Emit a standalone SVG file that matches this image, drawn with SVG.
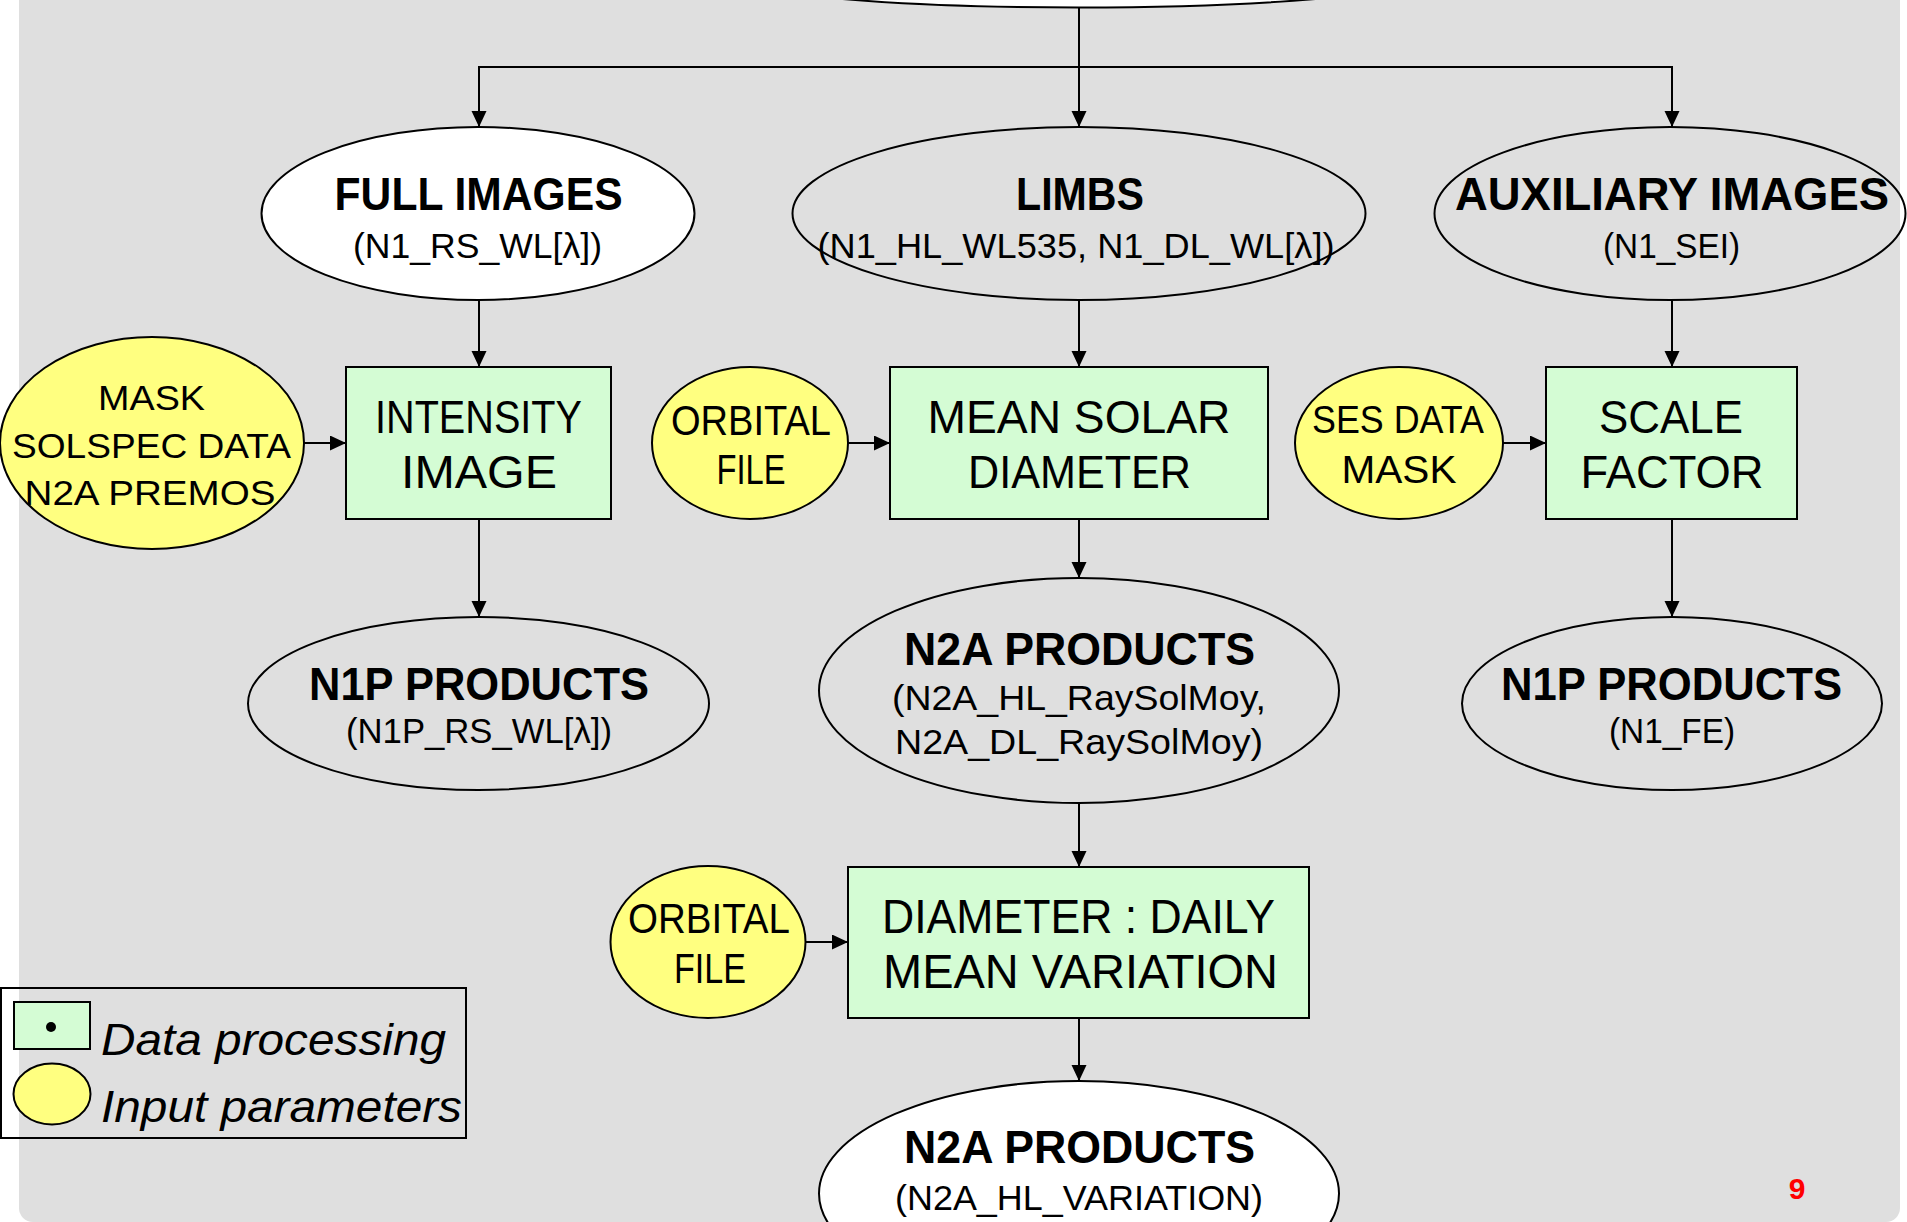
<svg xmlns="http://www.w3.org/2000/svg" width="1907" height="1222" viewBox="0 0 1907 1222">
<style>
.sh{stroke:#000;stroke-width:2}
.w{fill:#fff}
.g{fill:none}
.y{fill:#ffff80}
.p{fill:#d4fcd4}
.t{font-family:"Liberation Sans",Arial,sans-serif;fill:#000;text-anchor:middle}
.b{font-weight:bold;font-size:46px}
.s{font-size:35px}
.m{font-size:46px}
.c{stroke:#000;stroke-width:2;fill:none;marker-end:url(#ah)}
</style>
<defs>
<marker id="ah" markerUnits="userSpaceOnUse" markerWidth="17" markerHeight="16" refX="16" refY="7.5" orient="auto">
<path d="M0,0 L16,7.5 L0,15 z" fill="#000"/>
</marker>
</defs>
<rect x="0" y="0" width="1907" height="1222" fill="#fff"/>
<rect x="19" y="-20" width="1881" height="1242" rx="14" fill="#dfdfdf"/>

<g id="connectors">
<path class="c" d="M1079,8 V67 H479 V127"/>
<path class="c" d="M1079,67 V127"/>
<path class="c" d="M1079,67 H1672 V127"/>
<path class="c" d="M479,300 V367"/>
<path class="c" d="M1079,300 V367"/>
<path class="c" d="M1672,300 V367"/>
<path class="c" d="M304,443 H346"/>
<path class="c" d="M848,443 H890"/>
<path class="c" d="M1503,443 H1546"/>
<path class="c" d="M479,519 V617"/>
<path class="c" d="M1079,519 V578"/>
<path class="c" d="M1672,519 V617"/>
<path class="c" d="M1079,803 V867"/>
<path class="c" d="M805,942 H848"/>
<path class="c" d="M1079,1018 V1081"/>
</g>

<g id="top"><ellipse class="sh w" cx="1079" cy="-22.5" rx="339" ry="30"/></g>

<g id="full-images">
<ellipse class="sh w" cx="478" cy="213.5" rx="216.5" ry="86.5"/>
<text class="t b" x="478.6" y="210" textLength="288" lengthAdjust="spacingAndGlyphs">FULL IMAGES</text>
<text class="t s" x="477.5" y="258" textLength="249" lengthAdjust="spacingAndGlyphs">(N1_RS_WL[λ])</text>
</g>
<g id="limbs">
<ellipse class="sh g" cx="1079" cy="213.5" rx="286.5" ry="86.5"/>
<text class="t b" x="1080" y="210" textLength="128" lengthAdjust="spacingAndGlyphs">LIMBS</text>
<text class="t s" x="1076" y="258" textLength="517" lengthAdjust="spacingAndGlyphs">(N1_HL_WL535, N1_DL_WL[λ])</text>
</g>
<g id="auxiliary-images">
<ellipse class="sh g" cx="1670" cy="213.5" rx="235.5" ry="86.5"/>
<text class="t b" x="1672" y="210" textLength="434" lengthAdjust="spacingAndGlyphs">AUXILIARY IMAGES</text>
<text class="t s" x="1671.5" y="258" textLength="137" lengthAdjust="spacingAndGlyphs">(N1_SEI)</text>
</g>

<g id="mask-solspec">
<ellipse class="sh y" cx="152" cy="443" rx="152" ry="106"/>
<text class="t s" x="151.5" y="410" textLength="107" lengthAdjust="spacingAndGlyphs">MASK</text>
<text class="t s" x="151.5" y="458" textLength="279" lengthAdjust="spacingAndGlyphs">SOLSPEC DATA</text>
<text class="t s" x="150" y="505" textLength="251" lengthAdjust="spacingAndGlyphs">N2A PREMOS</text>
</g>
<g id="intensity-image">
<rect class="sh p" x="346" y="367" width="265" height="152"/>
<text class="t m" x="478.5" y="433" textLength="207" lengthAdjust="spacingAndGlyphs">INTENSITY</text>
<text class="t m" x="479" y="488" textLength="156" lengthAdjust="spacingAndGlyphs">IMAGE</text>
</g>
<g id="orbital-file-1">
<ellipse class="sh y" cx="750" cy="443" rx="98" ry="76"/>
<text class="t" style="font-size:42px" x="751" y="435" textLength="160" lengthAdjust="spacingAndGlyphs">ORBITAL</text>
<text class="t" style="font-size:42px" x="751" y="484" textLength="69" lengthAdjust="spacingAndGlyphs">FILE</text>
</g>
<g id="mean-solar-diameter">
<rect class="sh p" x="890" y="367" width="378" height="152"/>
<text class="t m" x="1079" y="433" textLength="303" lengthAdjust="spacingAndGlyphs">MEAN SOLAR</text>
<text class="t m" x="1079.5" y="488" textLength="223" lengthAdjust="spacingAndGlyphs">DIAMETER</text>
</g>
<g id="ses-data-mask">
<ellipse class="sh y" cx="1399" cy="443" rx="104" ry="76"/>
<text class="t" style="font-size:39px" x="1398" y="433" textLength="172" lengthAdjust="spacingAndGlyphs">SES DATA</text>
<text class="t" style="font-size:39px" x="1399" y="483" textLength="115" lengthAdjust="spacingAndGlyphs">MASK</text>
</g>
<g id="scale-factor">
<rect class="sh p" x="1546" y="367" width="251" height="152"/>
<text class="t m" x="1671" y="433" textLength="144" lengthAdjust="spacingAndGlyphs">SCALE</text>
<text class="t m" x="1672" y="488" textLength="183" lengthAdjust="spacingAndGlyphs">FACTOR</text>
</g>

<g id="n1p-products-left">
<ellipse class="sh g" cx="478.5" cy="703.5" rx="230.5" ry="86.5"/>
<text class="t b" x="479" y="700" textLength="340" lengthAdjust="spacingAndGlyphs">N1P PRODUCTS</text>
<text class="t s" x="479" y="743" textLength="266" lengthAdjust="spacingAndGlyphs">(N1P_RS_WL[λ])</text>
</g>
<g id="n2a-products">
<ellipse class="sh g" cx="1079" cy="690.5" rx="260" ry="112.5"/>
<text class="t b" x="1079.5" y="665" textLength="351" lengthAdjust="spacingAndGlyphs">N2A PRODUCTS</text>
<text class="t s" x="1079" y="710" textLength="374" lengthAdjust="spacingAndGlyphs">(N2A_HL_RaySolMoy,</text>
<text class="t s" x="1079" y="754" textLength="368" lengthAdjust="spacingAndGlyphs">N2A_DL_RaySolMoy)</text>
</g>
<g id="n1p-products-right">
<ellipse class="sh g" cx="1672" cy="703.5" rx="210" ry="86.5"/>
<text class="t b" x="1671.5" y="700" textLength="341" lengthAdjust="spacingAndGlyphs">N1P PRODUCTS</text>
<text class="t s" x="1672" y="743" textLength="126" lengthAdjust="spacingAndGlyphs">(N1_FE)</text>
</g>

<g id="orbital-file-2">
<ellipse class="sh y" cx="708" cy="942" rx="97.5" ry="76"/>
<text class="t" style="font-size:42px" x="709" y="933" textLength="162" lengthAdjust="spacingAndGlyphs">ORBITAL</text>
<text class="t" style="font-size:42px" x="710" y="983" textLength="72" lengthAdjust="spacingAndGlyphs">FILE</text>
</g>
<g id="diameter-daily">
<rect class="sh p" x="848" y="867" width="461" height="151"/>
<text class="t" style="font-size:48px" x="1078.5" y="933" textLength="393" lengthAdjust="spacingAndGlyphs">DIAMETER : DAILY</text>
<text class="t" style="font-size:48px" x="1080.5" y="988" textLength="395" lengthAdjust="spacingAndGlyphs">MEAN VARIATION</text>
</g>
<g id="n2a-products-bottom">
<ellipse class="sh w" cx="1079" cy="1193.5" rx="260" ry="112.5"/>
<text class="t b" x="1079.5" y="1163" textLength="351" lengthAdjust="spacingAndGlyphs">N2A PRODUCTS</text>
<text class="t s" x="1079" y="1210" textLength="368" lengthAdjust="spacingAndGlyphs">(N2A_HL_VARIATION)</text>
</g>

<g id="legend">
<rect x="1" y="988" width="465" height="150" fill="none" stroke="#000" stroke-width="2"/>
<rect class="sh p" x="14" y="1002" width="76" height="47"/>
<circle cx="51" cy="1027" r="5" fill="#000"/>
<ellipse class="sh y" cx="52" cy="1094" rx="38.5" ry="30.5"/>
<text x="101" y="1055" style="font-family:'Liberation Sans',Arial,sans-serif;font-style:italic;font-size:44px" textLength="345" lengthAdjust="spacingAndGlyphs">Data processing</text>
<text x="101" y="1122" style="font-family:'Liberation Sans',Arial,sans-serif;font-style:italic;font-size:44px" textLength="361" lengthAdjust="spacingAndGlyphs">Input parameters</text>
</g>

<text x="1797" y="1199" style="font-family:'Liberation Sans',Arial,sans-serif;font-weight:bold;font-size:30px;fill:#ff0000;text-anchor:middle">9</text>
</svg>
